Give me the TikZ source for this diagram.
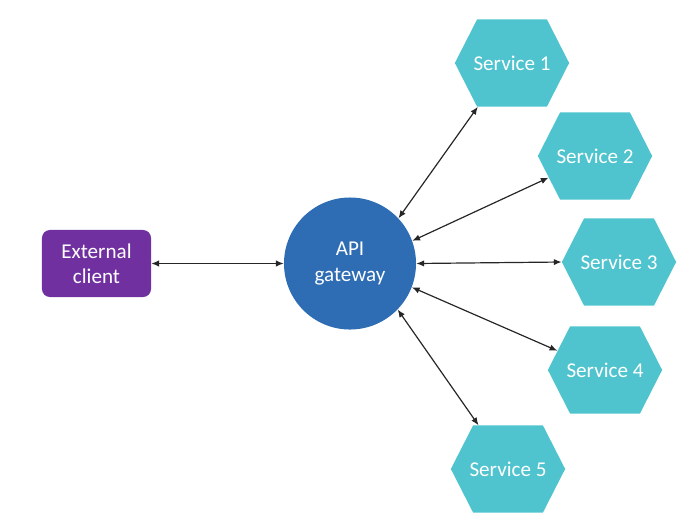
\documentclass[tikz,border=0pt]{standalone}
\usepackage{fontspec}
\setmainfont{Carlito}
\usetikzlibrary{shapes.symbols,arrows.meta}
\definecolor{servicecol}{HTML}{4FC4CE}
\definecolor{gatewaycol}{HTML}{2E6DB4}
\definecolor{clientcol}{HTML}{7030A0}
\definecolor{arrowcol}{HTML}{262626}
\tikzset{
  service/.style={signal, signal to=west and east, signal pointer angle=126,
    fill=servicecol, draw=none, text=white, minimum height=2.175cm,
    inner xsep=-2.5pt, inner ysep=0pt, font=\fontsize{15}{18}\selectfont},
  gateway/.style={circle, fill=gatewaycol, text=white, minimum size=3.3cm,
    inner sep=0pt, align=center, font=\fontsize{15}{19}\selectfont},
  client/.style={rectangle, rounded corners=0.2cm, fill=clientcol, text=white,
    minimum width=2.725cm, minimum height=1.675cm, inner sep=0pt,
    align=center, font=\fontsize{15}{18}\selectfont},
  link/.style={{Latex[length=5.5pt,width=4.5pt]}-{Latex[length=5.5pt,width=4.5pt]},
    line width=0.85pt, draw=arrowcol}
}
\begin{document}
\begin{tikzpicture}[x=0.025cm,y=-0.025cm]
        \useasboundingbox (0,0) rectangle (691,522);

        % Draw nodes
        \node[client] (client) at (96.5,263.5) {External\\client};
        \node[gateway] (gw) at (350,263.5) {API\\gateway};
        \node[service] (s1) at (512,63) {Service 1};
        \node[service] (s2) at (595,156) {Service 2};
        \node[service] (s3) at (619,262) {Service 3};
        \node[service] (s4) at (605,370) {Service 4};
        \node[service] (s5) at (508,469) {Service 5};

        % Draw connections
        \draw[link] (client.east) -- (gw.west);
        \draw[link] (gw.43) -- (s1.232);
        \draw[link] (gw.20) -- (s2.205);
        \draw[link] (gw.east) -- (s3.west);
        \draw[link] (gw.-21) -- (s4.158);
        \draw[link] (gw.-44) -- (s5.124);
    \end{tikzpicture}
\end{document}
